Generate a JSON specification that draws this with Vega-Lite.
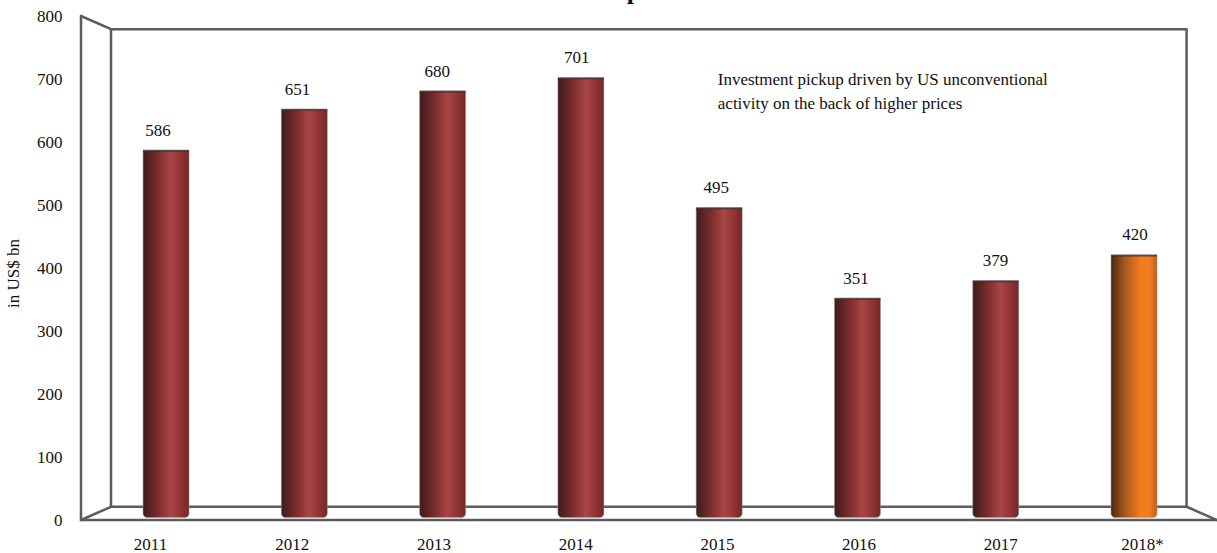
{
"$schema":"https://vega.github.io/schema/vega-lite/v6.json",
"width":1136,"height":504,
"autosize":"none",
"padding":{"left":81,"top":16,"right":0,"bottom":33},
"background":"white",
"view":{"stroke":null},
"config":{"font":"Liberation Serif",
"axisY":{"titleFont":"Liberation Serif","titleFontSize":17,"titleFontWeight":"normal","titleColor":"#111","titleX":-59,"titleY":257,
"tickCount":8,"domain":false,"ticks":false,"grid":false,"labelPadding":19,"labelFontSize":17,"labelFont":"Liberation Serif","labelColor":"#111"}},
"datasets":{
"bars":[
{"year":2011,"value":586,"kind":"actual"},
{"year":2012,"value":651,"kind":"actual"},
{"year":2013,"value":680,"kind":"actual"},
{"year":2014,"value":701,"kind":"actual"},
{"year":2015,"value":495,"kind":"actual"},
{"year":2016,"value":351,"kind":"actual"},
{"year":2017,"value":379,"kind":"actual"},
{"year":2018,"value":420,"kind":"forecast"}
],
"frame":[
{"edge":"backwall","o":1,"px":2010.602,"py":779},
{"edge":"backwall","o":2,"px":2018.38,"py":779},
{"edge":"backwall","o":3,"px":2018.38,"py":21},
{"edge":"backwall","o":4,"px":2010.602,"py":21},
{"edge":"backwall","o":5,"px":2010.602,"py":779},
{"edge":"topleft","o":1,"px":2010.385,"py":800},
{"edge":"topleft","o":2,"px":2010.602,"py":779},
{"edge":"left","o":1,"px":2010.385,"py":800},
{"edge":"left","o":2,"px":2010.385,"py":0},
{"edge":"front","o":1,"px":2010.385,"py":0},
{"edge":"front","o":2,"px":2018.6,"py":0},
{"edge":"floorleft","o":1,"px":2010.385,"py":0},
{"edge":"floorleft","o":2,"px":2010.602,"py":21},
{"edge":"floorright","o":1,"px":2018.38,"py":21},
{"edge":"floorright","o":2,"px":2018.6,"py":0}
],
"note":[{"px":2014.99,"py":699,"text":["Investment pickup driven by US unconventional","activity on the back of higher prices"]}],
"cut":[{"px":2014.384,"py":827,"text":"p"}]
},
"resolve":{"scale":{"x":"independent"},"axis":{"x":"independent"}},
"layer":[
{
"data":{"name":"frame"},
"mark":{"type":"line","color":"#5c5c5c","strokeWidth":2.5,"strokeCap":"round","strokeJoin":"round"},
"encoding":{
"x":{"field":"px","type":"quantitative","scale":{"domain":[2010.385,2018.6],"nice":false,"zero":false},"axis":null},
"y":{"field":"py","type":"quantitative","title":"in US$ bn","scale":{"domain":[0,800],"nice":false}},
"detail":{"field":"edge"},
"order":{"field":"o"}
}
},
{
"data":{"name":"bars"},
"mark":{"type":"bar","size":46,"cornerRadiusBottomLeft":4,"cornerRadiusBottomRight":4,"stroke":"#9a9a9a","strokeOpacity":0.5,"strokeWidth":1,
"color":{"x1":0,"x2":1,"y1":0,"y2":0,"gradient":"linear","stops":[{"offset":0,"color":"#3d1c1c"},{"offset":0.3,"color":"#762a2a"},{"offset":0.6,"color":"#a94545"},{"offset":0.85,"color":"#8d3232"},{"offset":1,"color":"#702828"}]}},
"transform":[{"filter":"datum.kind==='actual'"}],
"encoding":{
"x":{"field":"year","type":"quantitative","scale":{"domain":[2010.385,2018.6],"nice":false,"zero":false,"padding":0},"axis":null},
"y":{"field":"value","type":"quantitative","title":"in US$ bn","scale":{"domain":[0,800],"nice":false}},
"y2":{"datum":4}
}
},
{
"data":{"name":"bars"},
"mark":{"type":"bar","size":46,"cornerRadiusBottomLeft":4,"cornerRadiusBottomRight":4,"stroke":"#9a9a9a","strokeOpacity":0.5,"strokeWidth":1,
"color":{"x1":0,"x2":1,"y1":0,"y2":0,"gradient":"linear","stops":[{"offset":0,"color":"#4a2810"},{"offset":0.3,"color":"#a8581f"},{"offset":0.65,"color":"#f57d20"},{"offset":0.85,"color":"#ee7a20"},{"offset":1,"color":"#c0601c"}]}},
"transform":[{"filter":"datum.kind==='forecast'"}],
"encoding":{
"x":{"field":"year","type":"quantitative","scale":{"domain":[2010.385,2018.6],"nice":false,"zero":false,"padding":0},"axis":null},
"y":{"field":"value","type":"quantitative","title":"in US$ bn","scale":{"domain":[0,800],"nice":false}},
"y2":{"datum":4}
}
},
{
"data":{"name":"bars"},
"mark":{"type":"tick","orient":"horizontal","size":46,"thickness":2,"color":"#2e1c1c"},
"encoding":{
"x":{"field":"year","type":"quantitative","scale":{"domain":[2010.385,2018.6],"nice":false,"zero":false,"padding":0},"axis":null},
"y":{"field":"value","type":"quantitative","title":"in US$ bn","scale":{"domain":[0,800],"nice":false}}
}
},
{
"data":{"name":"note"},
"mark":{"type":"text","align":"left","baseline":"middle","fontSize":17,"lineHeight":24,"color":"#111","font":"Liberation Serif"},
"encoding":{
"x":{"field":"px","type":"quantitative","scale":{"domain":[2010.385,2018.6],"nice":false,"zero":false},"axis":null},
"y":{"field":"py","type":"quantitative","title":"in US$ bn","scale":{"domain":[0,800],"nice":false}},
"text":{"field":"text"}
}
},
{
"data":{"name":"cut"},
"mark":{"type":"text","align":"center","baseline":"alphabetic","fontSize":26,"fontWeight":"bold","color":"#111","font":"Liberation Serif"},
"encoding":{
"x":{"field":"px","type":"quantitative","scale":{"domain":[2010.385,2018.6],"nice":false,"zero":false},"axis":null},
"y":{"field":"py","type":"quantitative","title":"in US$ bn","scale":{"domain":[0,800],"nice":false}},
"text":{"field":"text"}
}
},
{
"data":{"name":"bars"},
"mark":{"type":"text","dy":-20,"fontSize":17,"color":"#111","font":"Liberation Serif"},
"encoding":{
"x":{"field":"year","type":"quantitative","scale":{"domain":[2010.448,2018.587],"nice":false,"zero":false},"axis":null},
"y":{"field":"value","type":"quantitative","title":"in US$ bn","scale":{"domain":[0,800],"nice":false}},
"text":{"field":"value","type":"quantitative"}
}
},
{
"data":{"name":"bars"},
"mark":{"type":"point","opacity":0},
"encoding":{
"x":{"field":"year","type":"quantitative","scale":{"domain":[2010.513,2018.529],"nice":false,"zero":false},
"axis":{"title":null,"values":[2011,2012,2013,2014,2015,2016,2017,2018],"labelExpr":"datum.value===2018?'2018*':datum.label","format":"d","domain":false,"ticks":false,"grid":false,"labelPadding":16,"labelFontSize":17,"labelFont":"Liberation Serif","labelColor":"#111","labelFlush":false}},
"y":{"field":"value","type":"quantitative","title":"in US$ bn","scale":{"domain":[0,800],"nice":false}}
}
}
]
}
